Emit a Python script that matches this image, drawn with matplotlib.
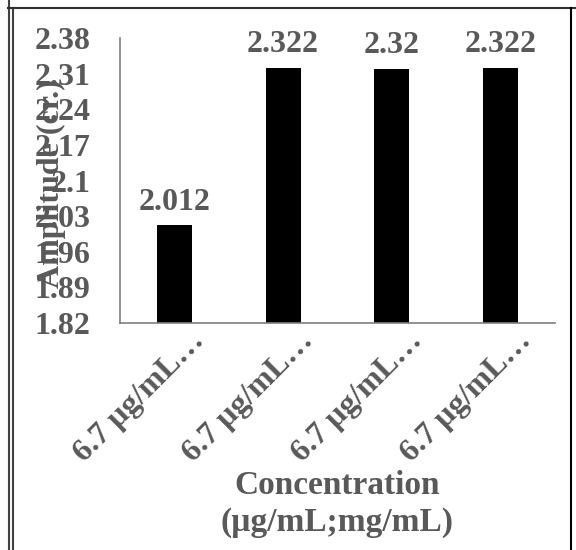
import matplotlib.pyplot as plt
import matplotlib.transforms as mtransforms
from matplotlib.lines import Line2D
from matplotlib.ticker import FuncFormatter

# amplitude readings for each sample
categories = ['6.7 µg/mL…', '6.7 µg/mL…', '6.7 µg/mL…', '6.7 µg/mL…']
amplitude = [2.012, 2.322, 2.32, 2.322]
yticks = [1.82, 1.89, 1.96, 2.03, 2.1, 2.17, 2.24, 2.31, 2.38]

grey = '#595959'
plt.rcParams['font.family'] = ['Liberation Serif', 'DejaVu Serif']
plt.rcParams['font.weight'] = 'bold'
fs = 23

fig = plt.figure(figsize=(5.76, 5.5), dpi=100)
W, H = 576, 550
ax = fig.add_axes([120 / W, 1 - 323 / H, 435 / W, 285 / H])

x = list(range(len(categories)))
bars = ax.bar(x, amplitude, width=0.32, color='black')
ax.bar_label(bars, labels=['%g' % v for v in amplitude], padding=6,
             fontsize=fs, fontweight='bold', color=grey)

ax.set_ylim(1.82, 2.38)
ax.set_xlim(-0.5, len(categories) - 0.5)
ax.set_yticks(yticks)
ax.yaxis.set_major_formatter(FuncFormatter(lambda v, p: '%g' % round(v, 2)))
ax.tick_params(axis='y', length=0, pad=21, labelsize=fs, labelcolor=grey)
ax.tick_params(axis='x', length=0, pad=4, labelsize=fs, labelcolor=grey)
ax.set_xticks(x)
ax.set_xticklabels(categories, rotation=45, ha='right', va='center',
                   rotation_mode='anchor')
# shift the slanted labels so they end just right of each bar
offset = mtransforms.ScaledTranslation(26 / 100, -8 / 100, fig.dpi_scale_trans)
for lab in ax.get_xticklabels():
    lab.set_transform(lab.get_transform() + offset)

for s in ['top', 'right']:
    ax.spines[s].set_visible(False)
for s in ['left', 'bottom']:
    ax.spines[s].set_color('#7f7f7f')
    ax.spines[s].set_linewidth(1.2)

fig.text(51 / W, 1 - 184 / H, 'Amplitude (cr.)', rotation=90, ha='center',
         va='center', fontsize=fs, fontweight='bold', color=grey)
fig.text(337 / W, 1 - 485 / H, 'Concentration', ha='center', va='center',
         fontsize=24, fontweight='bold', color=grey)
fig.text(337 / W, 1 - 522 / H, '(µg/mL;mg/mL)', ha='center', va='center',
         fontsize=24, fontweight='bold', color=grey)

# outer frame lines
def px_line(x0, y0, x1, y1, color, lw=1.5):
    fig.add_artist(Line2D([x0 / W, x1 / W], [1 - y0 / H, 1 - y1 / H],
                          transform=fig.transFigure, color=color, lw=lw))

px_line(8.5, 0, 8.5, H, '#404040')
px_line(12.5, 8, 12.5, H, '#404040')
px_line(8, 7.5, W, 7.5, '#303030')
px_line(571, 8, 571, H, 'black')

fig.savefig('out.png', dpi=100)
